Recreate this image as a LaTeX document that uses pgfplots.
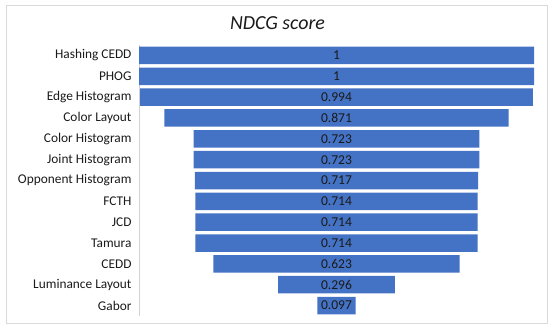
\documentclass[border=0pt]{standalone}
\usepackage{pgfplots}
\usepackage{pgfplotstable}
\pgfplotsset{compat=1.18}
\usepackage{fontspec}
\setmainfont{Carlito}
\definecolor{barblue}{HTML}{4472C4}
\definecolor{txt}{HTML}{1A1A1A}
\pgfplotstableread[col sep=comma]{
idx,name,v
0,Hashing CEDD,1
1,PHOG,1
2,Edge Histogram,0.994
3,Color Layout,0.871
4,Color Histogram,0.723
5,Joint Histogram,0.723
6,Opponent Histogram,0.717
7,FCTH,0.714
8,JCD,0.714
9,Tamura,0.714
10,CEDD,0.623
11,Luminance Layout,0.296
12,Gabor,0.097
}\data
\begin{document}
\begin{tikzpicture}
\useasboundingbox (0,0) rectangle (550bp,-334bp);
\draw[draw=gray!30, line width=0.8pt] (6bp,-5bp) rectangle (547bp,-323bp);
\node[anchor=base, text=txt, font=\fontsize{20}{24}\selectfont\itshape] at (277.5bp,-29.5bp) {NDCG score};
\pgfplotsset{funnel/.style={
  scale only axis, width=395bp, height=271bp,
  at={(139bp,-316bp)}, anchor=south west,
  xmin=0, xmax=1, ymin=-0.5, ymax=12.5, y dir=reverse,
}}
\begin{axis}[funnel,
  xbar stacked, bar width=0.84,
  axis x line=none, axis y line=left,
  axis line style={-, draw=gray!35, line width=0.8pt},
  ytick=data, yticklabels from table={\data}{name},
  major tick length=0pt,
  yticklabel style={text=txt, font=\fontsize{13.4}{16}\selectfont, xshift=-4bp},
]
\addplot[draw=none, fill=none] table[x expr=(1-\thisrow{v})/2, y=idx] {\data};
\addplot[draw=none, fill=barblue] table[x=v, y=idx] {\data};
\end{axis}
\begin{axis}[funnel, hide axis]
\addplot[draw=none, mark=none, nodes near coords, point meta=explicit symbolic,
  every node near coord/.style={anchor=center, text=txt, font=\fontsize{13.6}{16}\selectfont}]
  table[x expr=0.5, y=idx, meta=v] {\data};
\end{axis}
\end{tikzpicture}
\end{document}
